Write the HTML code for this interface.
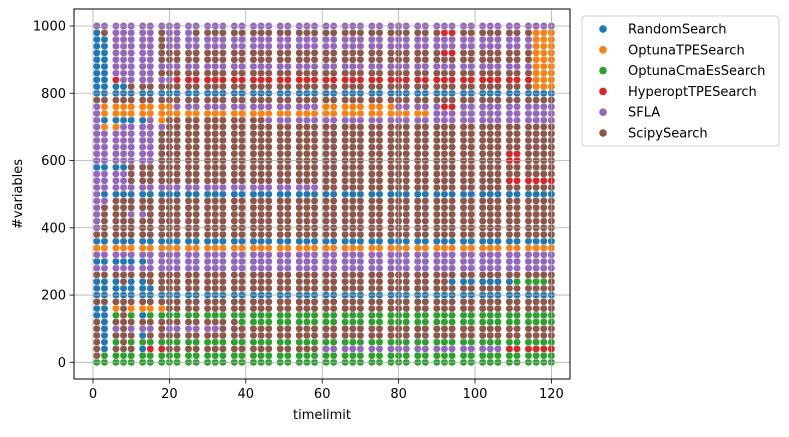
<!DOCTYPE html>
<html><head><meta charset="utf-8"><style>
body{margin:0;background:#fff;}
svg text{font-family:"DejaVu Sans","Liberation Sans",sans-serif;font-size:13px;fill:#000;}
</style></head><body>
<svg id="chart" width="789" height="432" viewBox="0 0 789 432" xmlns="http://www.w3.org/2000/svg">
<rect x="0" y="0" width="789" height="432" fill="#fff"/>
<g id="points"></g>
<g id="grid"></g>
<rect x="74" y="9" width="496" height="370" fill="none" stroke="#000" stroke-width="1"/>
<g id="xticks"></g>
<g id="yticks"></g>
<text x="322" y="419" text-anchor="middle">timelimit</text>
<text transform="translate(22,194) rotate(-90)" text-anchor="middle">#variables</text>
<g>
<rect x="582" y="16" width="197" height="130" rx="3" fill="#fff" stroke="#d0d0d0"/>
<g id="legend"></g>
</g>
</svg>
<script>
const timelimits=[1,3,6,8,10,13,15,18,20,22,25,27,30,32,34,37,39,42,44,46,49,51,54,56,58,61,63,66,68,70,73,75,78,80,82,85,87,90,92,94,97,99,102,104,106,109,111,114,116,118,120];
const variables=[0,20,40,60,80,100,120,140,160,180,200,220,240,260,280,300,320,340,360,380,400,420,440,460,480,500,520,540,560,580,600,620,640,660,680,700,720,740,760,780,800,820,840,860,880,900,920,940,960,980,1000];
// dominant method per #variables row (same order as variables)
const rowBase=['C','C','F','C','S','S','C','C','S','S','R','S','S','S','F','F','F','O','R','S','S','S','S','S','S','R','F','S','S','S','S','S','S','S','S','S','F','O','F','S','R','S','H','S','F','S','S','F','F','S','F'];
// overrides: [tMin, tMax, varMin, varMax, method]
const patches=[
[116,121,820,980,'O'],[92,94,980,980,'H'],[92,94,920,920,'H'],[92,94,760,760,'H'],
[107,113,600,620,'H'],[107,121,540,540,'H'],
[0,59,40,40,'S'],[107,121,40,40,'H'],
[90,121,740,740,'F'],[60,78,760,760,'O'],[60,121,520,520,'S'],
[93,110,240,240,'R'],[111,118,240,240,'C'],[20,32,100,100,'F'],
[0,2,820,980,'R'],[3,4,820,960,'R'],[5,16,860,980,'F'],[17,21,920,960,'S'],[20,26,940,980,'F'],
[5,20,840,840,'F'],[5,6,840,840,'H'],[0,9,820,820,'R'],
[3,21,760,760,'O'],[0,2,740,760,'F'],
[0,2,720,720,'F'],[3,14,720,720,'R'],[17,18,720,720,'O'],[20,45,720,720,'S'],
[0,19,700,700,'F'],[3,6,700,700,'O'],
[0,16,600,680,'F'],[0,9,580,580,'R'],[0,9,520,560,'F'],
[0,2,500,500,'F'],[0,4,480,480,'F'],[0,2,400,460,'F'],[10,14,440,440,'F'],
[0,14,300,300,'R'],[0,6,240,240,'R'],[10,14,240,240,'R'],[0,16,220,220,'R'],
[0,4,160,160,'R'],[5,6,160,160,'O'],[10,19,160,160,'O'],
[0,4,140,140,'R'],[7,9,140,140,'S'],[12,14,140,140,'R'],
[0,38,120,120,'S'],[3,4,120,120,'R'],
[3,4,100,100,'R'],[5,6,100,100,'F'],[10,16,100,100,'F'],
[3,4,80,80,'R'],[12,14,80,80,'R'],
[3,4,60,60,'R'],[0,2,60,60,'S'],[7,9,60,60,'S'],
[0,2,40,40,'S'],[3,4,40,40,'R'],[12,14,40,40,'R'],[15,19,40,40,'H'],
[0,2,20,20,'S']
];
const methods=['RandomSearch','OptunaTPESearch','OptunaCmaEsSearch','HyperoptTPESearch','SFLA','ScipySearch'];
const codes=['R','O','C','H','F','S'];
const colors=['#1f77b4','#ff7f0e','#2ca02c','#d62728','#9467bd','#8c564b'];
const xTicks=[0,20,40,60,80,100,120];
const yTicks=[0,200,400,600,800,1000];

const NS='http://www.w3.org/2000/svg';
const xS=t=>93+3.82*t;
const yS=v=>362.3-0.3363*v;
function mk(tag,attrs,parent){const e=document.createElementNS(NS,tag);for(const k in attrs)e.setAttribute(k,attrs[k]);parent.appendChild(e);return e;}
const pts=document.getElementById('points');
variables.forEach((v,ri)=>{
  timelimits.forEach(t=>{
    let c=rowBase[ri];
    patches.forEach(p=>{if(t>=p[0]&&t<=p[1]&&v>=p[2]&&v<=p[3])c=p[4];});
    const ci=codes.indexOf(c);
    const el=mk('circle',{cx:xS(t),cy:yS(v),r:3.7,fill:colors[ci],stroke:'#fff','stroke-width':0.5},pts);
    
    
  });
});
const grid=document.getElementById('grid'),xt=document.getElementById('xticks'),yt=document.getElementById('yticks');
xTicks.forEach(t=>{
  const x=xS(t);
  const g=mk('line',{x1:x,x2:x,y1:9,y2:379,stroke:'#b0b0b0','stroke-width':0.8},grid);
  
  const tk=mk('line',{x1:x,x2:x,y1:379,y2:383.5,stroke:'#000','stroke-width':0.8},xt);
  
  const lb=mk('text',{x:x,y:398,'text-anchor':'middle'},xt);lb.textContent=t;
  
});
yTicks.forEach(v=>{
  const y=yS(v);
  const g=mk('line',{x1:74,x2:570,y1:y,y2:y,stroke:'#b0b0b0','stroke-width':0.8},grid);
  
  const tk=mk('line',{x1:69.5,x2:74,y1:y,y2:y,stroke:'#000','stroke-width':0.8},yt);
  
  const lb=mk('text',{x:66,y:y+4.5,'text-anchor':'end'},yt);lb.textContent=v;
  
});
const lg=document.getElementById('legend');
methods.forEach((m,i)=>{
  const y=29+i*20.8;
  const g=mk('g',{},lg);
  
  mk('circle',{cx:603,cy:y,r:3.8,fill:colors[i]},g);
  const tx=mk('text',{x:628,y:y+4.5},g);tx.textContent=m;
});
</script>
</body></html>
